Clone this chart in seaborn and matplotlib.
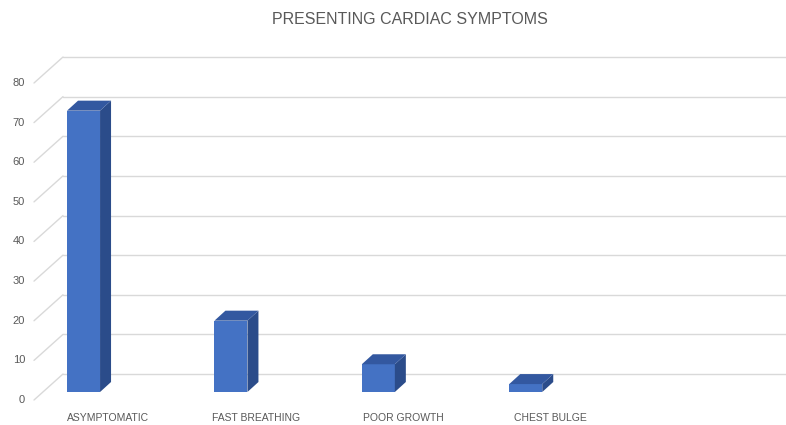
import matplotlib
matplotlib.use("Agg")
import matplotlib.pyplot as plt
import seaborn as sns
from matplotlib.patches import Polygon
from matplotlib.lines import Line2D
from matplotlib.transforms import IdentityTransform

# data
categories = ["ASYMPTOMATIC", "FAST BREATHING", "POOR GROWTH", "CHEST BULGE"]
counts = [71, 18, 7, 2]
y_ticks = [0, 10, 20, 30, 40, 50, 60, 70, 80]
title = "PRESENTING CARDIAC SYMPTOMS"

# style
FRONT, TOP, SIDE = '#4472C4', '#3358A0', '#2B4C8A'
GRID, TXT = '#D9D9D9', '#595959'
DEPTH = (11, 10)       # bar depth in px
BACK = (20, 18)        # bar plane -> back wall, px
FRONT_OFF = (-9, -8)   # bar plane -> front edge, px

sns.set_theme(style="white")
plt.rcParams['font.family'] = ['Liberation Sans Narrow', 'Liberation Sans', 'DejaVu Sans']

W, H = 786, 425
fig = plt.figure(figsize=(W / 100, H / 100), dpi=100)
fig.patch.set_facecolor('white')
ax = fig.add_axes([43 / W, 33 / H, 723 / W, 317 / H])

sns.barplot(x=categories, y=counts, ax=ax, color=FRONT, saturation=1,
            width=0.224, edgecolor='none', linewidth=0, zorder=3)
ax.set_xlim(-0.275, 4.63)
ax.set_ylim(0, 80)
ax.axis('off')

idt = IdentityTransform()
x_left = ax.transData.transform((-0.275, 0))[0]
x_right = ax.transData.transform((4.63, 0))[0]

# back wall gridlines + side wall slants + y labels
for v in y_ticks:
    y = ax.transData.transform((0, v))[1]
    fig.add_artist(Line2D([x_left + BACK[0], x_right + BACK[0]], [y + BACK[1], y + BACK[1]],
                          color=GRID, lw=1, transform=idt, zorder=-1))
    fig.add_artist(Line2D([x_left + FRONT_OFF[0], x_left + BACK[0]],
                          [y + FRONT_OFF[1], y + BACK[1]],
                          color=GRID, lw=1, transform=idt, zorder=-1))
    fig.text(x_left + FRONT_OFF[0] - 9, y + FRONT_OFF[1], f"{v}", transform=idt,
             ha='right', va='center', fontsize=8, color=TXT)

# 3D faces for each bar
dx, dy = DEPTH
for p in ax.patches:
    x0, w, h = p.get_x(), p.get_width(), p.get_height()
    bl = ax.transData.transform((x0, 0))
    tr = ax.transData.transform((x0 + w, h))
    side = [(tr[0], bl[1]), (tr[0], tr[1]), (tr[0] + dx, tr[1] + dy), (tr[0] + dx, bl[1] + dy)]
    top = [(bl[0], tr[1]), (tr[0], tr[1]), (tr[0] + dx, tr[1] + dy), (bl[0] + dx, tr[1] + dy)]
    fig.add_artist(Polygon(side, closed=True, facecolor=SIDE, edgecolor='none',
                           transform=idt, zorder=2))
    fig.add_artist(Polygon(top, closed=True, facecolor=TOP, edgecolor='none',
                           transform=idt, zorder=2))

# category labels, shifted toward the front floor
for i, lab in enumerate(categories):
    xc = ax.transData.transform((i, 0))[0] + 25
    fig.text(xc, H - 418, lab, transform=idt, ha='center', va='center',
             fontsize=7.5, color=TXT)

fig.text(410, H - 20, title, transform=idt, ha='center', va='center',
         fontsize=11.5, color=TXT)

fig.savefig("out.png", dpi=100)
